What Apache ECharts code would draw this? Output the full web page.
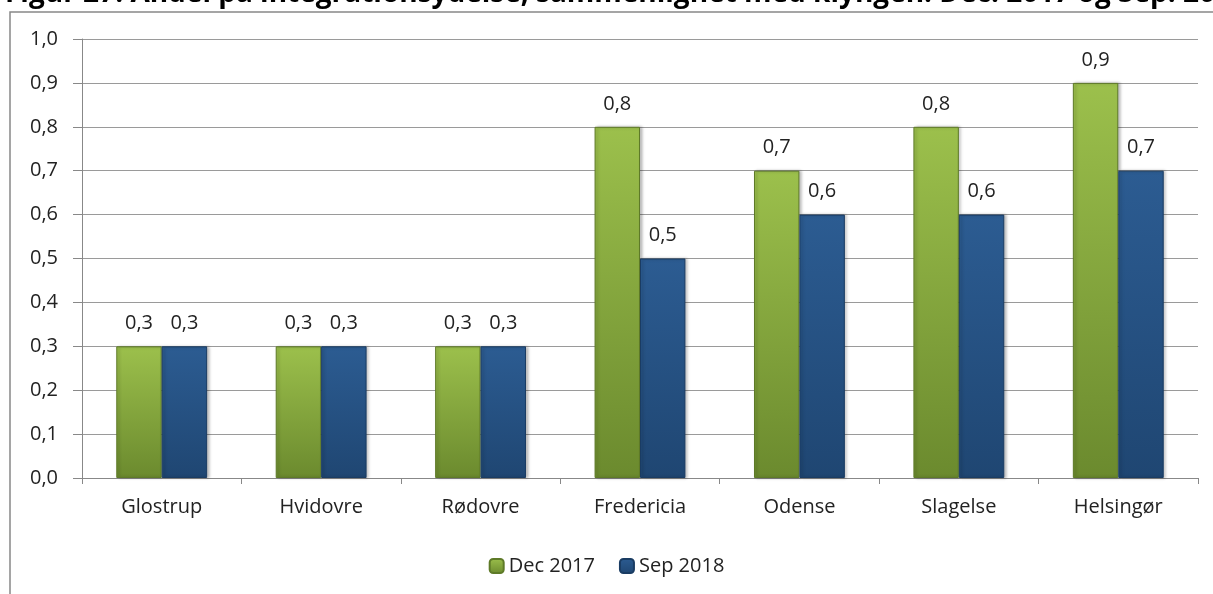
<!DOCTYPE html>
<html>
<head>
<meta charset="utf-8">
<script src="https://cdn.jsdelivr.net/npm/echarts@6/dist/echarts.min.js"></script>
<style>
  html, body { margin: 0; padding: 0; background: #fff; }
  #main { width: 1213px; height: 594px; }
</style>
</head>
<body>
<div id="main"></div>
<script>
// kommuner og værdier
var categories = ['Glostrup', 'Hvidovre', 'Rødovre', 'Fredericia', 'Odense', 'Slagelse', 'Helsingør'];
var dec2017 = [0.3, 0.3, 0.3, 0.8, 0.7, 0.8, 0.9];
var sep2018 = [0.3, 0.3, 0.3, 0.5, 0.6, 0.6, 0.7];
var seriesNames = ['Dec 2017', 'Sep 2018'];

var chart = echarts.init(document.getElementById('main'));

function fmt(v) {
    return v.toFixed(1).replace('.', ',');
}

function barStyle(top, bottom, border) {
    return {
        color: new echarts.graphic.LinearGradient(0, 0, 0, 1, [
            {offset: 0, color: top},
            {offset: 1, color: bottom}
        ]),
        borderColor: border,
        borderWidth: 1,
        shadowColor: 'rgba(0,0,0,0.25)',
        shadowBlur: 3,
        shadowOffsetX: 2
    };
}

var txtFont = 'Open Sans';
var txtSize = 20;

var labelOpt = {
    show: true,
    position: 'top',
    distance: 13,
    fontSize: txtSize,
    fontFamily: txtFont,
    color: '#222',
    formatter: function (p) { return fmt(p.value); }
};

chart.setOption({
    animation: false,
    title: {
        text: 'Figur 27. Andel på integrationsydelse, sammenlignet med klyngen. Dec. 2017 og Sep. 2018',
        left: 0,
        top: -25,
        textStyle: {
            fontFamily: 'Open Sans',
            fontWeight: 'bold',
            fontSize: 28,
            color: '#000'
        }
    },
    graphic: [{
        type: 'polyline',
        shape: {points: [[10, 594], [10, 12], [1213, 12]]},
        style: {stroke: '#888', lineWidth: 1.5, fill: null}
    }],
    grid: {
        left: 82,
        right: 15,
        top: 39,
        bottom: 116
    },
    legend: {
        bottom: 13,
        left: 'center',
        itemWidth: 14,
        itemHeight: 14,
        itemGap: 24,
        data: seriesNames,
        textStyle: {fontSize: txtSize, fontFamily: txtFont, color: '#222'}
    },
    xAxis: {
        type: 'category',
        data: categories,
        axisLine: {lineStyle: {color: '#888'}},
        axisTick: {show: true, length: 6, lineStyle: {color: '#888'}},
        axisLabel: {fontSize: txtSize, fontFamily: txtFont, color: '#222', margin: 19}
    },
    yAxis: {
        type: 'value',
        min: 0,
        max: 1,
        interval: 0.1,
        axisLine: {show: true, lineStyle: {color: '#888'}},
        axisTick: {show: true, length: 9, lineStyle: {color: '#888'}},
        splitLine: {lineStyle: {color: '#9a9a9a'}},
        axisLabel: {
            fontSize: txtSize, fontFamily: txtFont, color: '#222', margin: 24,
            formatter: function (v) { return fmt(v); }
        }
    },
    series: [{
        name: seriesNames[0],
        type: 'bar',
        data: dec2017,
        barGap: '0%',
        barCategoryGap: '43%',
        itemStyle: barStyle('#9cc04c', '#6b8a2e', '#5e7a28'),
        label: labelOpt
    }, {
        name: seriesNames[1],
        type: 'bar',
        data: sep2018,
        itemStyle: barStyle('#2c5c92', '#1f4672', '#1a3c63'),
        label: labelOpt
    }]
});
</script>
</body>
</html>
